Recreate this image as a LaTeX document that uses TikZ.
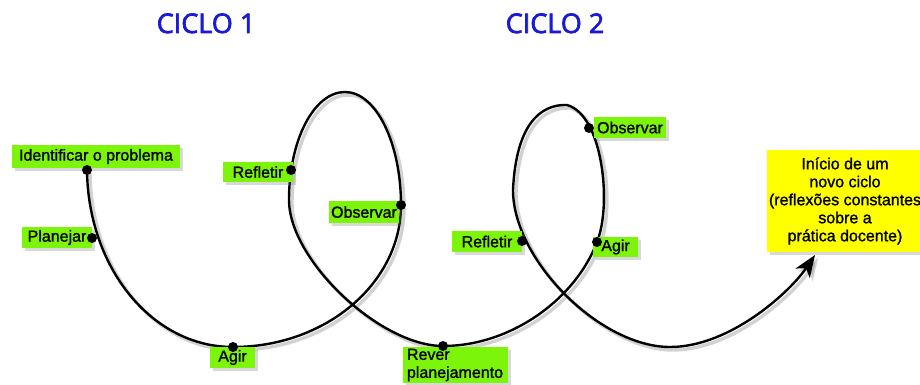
\documentclass[tikz,border=0pt]{standalone}
\usepackage{fontspec}
\setmainfont[FakeBold=1.3]{Liberation Sans}
\newfontfamily\titlefont[FakeBold=2.5]{Open Sans}
\usetikzlibrary{arrows.meta,shadows}
\definecolor{lblgreen}{RGB}{125,245,10}
\definecolor{lblyellow}{RGB}{255,255,0}
\definecolor{ttlblue}{RGB}{25,25,215}
\begin{document}
\begin{tikzpicture}[x=1pt,y=-1pt,
  lbl/.style={fill=lblgreen, inner sep=0pt, align=center,
    font=\fontsize{16}{18}\selectfont,
    drop shadow={shadow xshift=3pt,shadow yshift=-3pt,opacity=0.3}},
  newbox/.style={lbl, fill=lblyellow},
  dot/.style={circle, fill=black, inner sep=0pt, minimum size=10pt},
  curve/.style={line width=2.4pt, black},
  curveshadow/.style={line width=3.4pt, gray, opacity=0.35},
  tip/.style={-{Stealth[length=22pt,width=17pt,inset=6pt]}},
  ttl/.style={font=\titlefont\fontsize{27}{30}\selectfont, text=ttlblue, anchor=base}
]
\useasboundingbox (0,0) rectangle (920,385);
\fill[white] (0,0) rectangle (920,385);

% titles
\node[ttl] (t1) at (206,33) {CICLO 1};
\node[ttl] (t2) at (555,33) {CICLO 2};

% points on the spiral
\coordinate (p1) at (87,170);   % identificar
\coordinate (p2) at (233,347);  % agir 1
\coordinate (p3) at (401,205);  % observar 1
\coordinate (top1) at (345,92);
\coordinate (left1) at (289,200);
\coordinate (p5) at (443,346);  % rever
\coordinate (p6) at (597,242);  % agir 2
\coordinate (top2) at (567,105);
\coordinate (left2) at (513,190);
\coordinate (bot3) at (670,347);
\coordinate (tipend) at (815,255);

\def\spiral{(p1) .. controls (88,268) and (152,347) .. (p2)
  .. controls (326,347) and (401,283) .. (p3)
  .. controls (401,143) and (376,92) .. (top1)
  .. controls (314,92) and (289,140) .. (left1)
  .. controls (289,260) and (380,346) .. (p5)
  .. controls (510,346) and (575,300) .. (p6)
  .. controls (612,205) and (603,115) .. (top2)
  .. controls (540,104) and (516,125) .. (left2)
  .. controls (513,260) and (600,347) .. (bot3)
  .. controls (730,347) and (790,292) .. (tipend)}

\begin{scope}[transform canvas={shift={(3pt,-3pt)}}]
\draw[curveshadow, tip] \spiral;
\end{scope}
\draw[curve, tip] \spiral;

% labels
\node[lbl, minimum width=168pt, minimum height=23pt] (lid) at (96,156.5) {Identificar o problema};
\node[lbl, minimum width=70pt, minimum height=21pt] (lpl) at (57,237.5) {Planejar};
\node[lbl, minimum width=45pt, minimum height=21pt] (lag1) at (232.5,357.5) {Agir};
\node[lbl, minimum width=70pt, minimum height=22pt] (lob1) at (364,212) {Observar};
\node[lbl, minimum width=70pt, minimum height=20pt] (lre1) at (258,172) {Refletir};
\node[lbl, minimum width=105pt, minimum height=36pt, align=left, text width=97pt] (lrv) at (455.5,365) {Rever\\planejamento};
\node[lbl, minimum width=45pt, minimum height=20pt] (lag2) at (615.5,247) {Agir};
\node[lbl, minimum width=72pt, minimum height=21pt] (lob2) at (630,127.5) {Observar};
\node[lbl, minimum width=70pt, minimum height=21pt] (lre2) at (487,241.5) {Refletir};
\node[newbox, minimum width=156pt, minimum height=102pt] (lnew) at (845,201)
  {Início de um\\novo ciclo\\(reflexões constantes\\sobre a\\prática docente)};

% dots
\node[dot] (d1) at (p1) {};
\node[dot] (d2) at (92,238) {};
\node[dot] (d3) at (p2) {};
\node[dot] (d4) at (p3) {};
\node[dot] (d5) at (291,170) {};
\node[dot] (d6) at (p5) {};
\node[dot] (d7) at (p6) {};
\node[dot] (d8) at (589,128) {};
\node[dot] (d9) at (522,241) {};
\end{tikzpicture}
\end{document}
